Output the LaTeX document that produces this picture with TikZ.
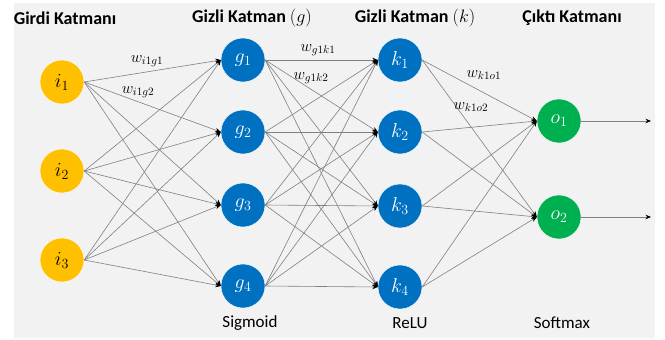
\RequirePackage{fix-cm}
\documentclass[tikz,border=0pt]{standalone}
\usepackage{fontspec}
\setmainfont{Carlito}
\usetikzlibrary{arrows.meta}
\definecolor{bg}{HTML}{F2F2F2}
\definecolor{inyel}{HTML}{FFC000}
\definecolor{hidblue}{HTML}{0070C0}
\definecolor{outgreen}{HTML}{00B050}
\definecolor{edgegray}{HTML}{808080}
\tikzset{
  neuron/.style={circle,minimum size=44pt,inner sep=0pt,draw=white,line width=0.4pt,font=\fontsize{20}{21}\selectfont},
  innode/.style={neuron,fill=inyel,text=black},
  hidnode/.style={neuron,fill=hidblue,text=white},
  outnode/.style={neuron,fill=outgreen,text=white},
  conn/.style={draw=edgegray,line width=0.6pt,-{Stealth[length=5.5pt,width=4.5pt,black]}},
  title/.style={font=\fontsize{18}{19}\selectfont\bfseries},
  actlabel/.style={font=\fontsize{17}{18}\selectfont},
  wlabel/.style={font=\fontsize{16}{17}\selectfont,inner sep=1pt,text=black}
}
\begin{document}
\begin{tikzpicture}[x=1pt,y=-1pt]
\useasboundingbox (0,0) rectangle (665,340);
\fill[white] (0,0) rectangle (665,340);
\fill[bg] (14,3) rectangle (655,338);
% titles
\node[title] (t1) at (65,18) {Girdi Katmanı};
\node[title] (t2) at (252,18) {Gizli Katman $(g)$};
\node[title] (t3) at (415,18) {Gizli Katman $(k)$};
\node[title] (t4) at (572,18) {Çıktı Katmanı};
% bottom labels
\node[actlabel] (a1) at (250,323) {Sigmoid};
\node[actlabel] (a2) at (410,323) {ReLU};
\node[actlabel] (a3) at (562,323) {Softmax};
% input
\node[innode] (i1) at (62,82) {$i_1$};
\node[innode] (i2) at (62,171) {$i_2$};
\node[innode] (i3) at (62,260) {$i_3$};
% hidden g
\node[hidnode] (g1) at (243,60) {$g_1$};
\node[hidnode] (g2) at (243,132) {$g_2$};
\node[hidnode] (g3) at (243,205) {$g_3$};
\node[hidnode] (g4) at (243,286) {$g_4$};
% hidden k
\node[hidnode] (k1) at (400,60) {$k_1$};
\node[hidnode] (k2) at (400,132) {$k_2$};
\node[hidnode] (k3) at (400,206) {$k_3$};
\node[hidnode] (k4) at (400,287) {$k_4$};
% output
\node[outnode] (o1) at (559,121) {$o_1$};
\node[outnode] (o2) at (559,217) {$o_2$};
\coordinate (e1) at (651,121);
\coordinate (e2) at (651,217);
% connections
\foreach \a in {1,2,3}
  \foreach \b in {1,2,3,4}
    \draw[conn] (i\a.east) -- (g\b.west);
\foreach \a in {1,2,3,4}
  \foreach \b in {1,2,3,4}
    \draw[conn] (g\a.east) -- (k\b.west);
\foreach \a in {1,2,3,4}
  \foreach \b in {1,2}
    \draw[conn] (k\a.east) -- (o\b.west);
\draw[conn] (o1.east) -- (e1);
\draw[conn] (o2.east) -- (e2);
% weight labels
\node[wlabel] (w1) at (147,61) {$w_{i1g1}$};
\node[wlabel] (w2) at (138,92) {$w_{i1g2}$};
\node[wlabel] (w3) at (318,50) {$w_{g1k1}$};
\node[wlabel] (w4) at (311,78) {$w_{g1k2}$};
\node[wlabel] (w5) at (484,75) {$w_{k1o1}$};
\node[wlabel] (w6) at (471,107) {$w_{k1o2}$};
\end{tikzpicture}
\end{document}
